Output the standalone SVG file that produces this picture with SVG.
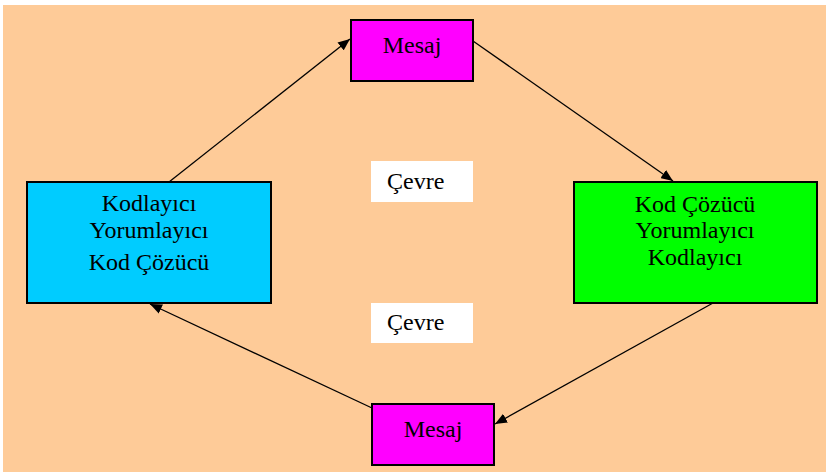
<svg xmlns="http://www.w3.org/2000/svg" width="826" height="472" viewBox="0 0 826 472">
<defs>
<style>
.t{font-family:"Liberation Serif","Times New Roman",serif;font-size:24px;fill:#000;}
.c{text-anchor:middle;}
.box{stroke:#000;stroke-width:2;}
.ln{stroke:#000;stroke-width:1.3;fill:none;marker-end:url(#ah);}
</style>
<marker id="ah" viewBox="0 0 12 10" refX="12" refY="5" markerWidth="12" markerHeight="10" markerUnits="userSpaceOnUse" orient="auto">
<path d="M0,0 L12,5 L0,10 z" fill="#000"/>
</marker>
</defs>
<rect x="0" y="0" width="826" height="472" fill="#fff"/>
<rect x="3" y="5" width="823" height="467" fill="#fecb98"/>
<g id="connectors">
<line class="ln" x1="169" y1="182" x2="350" y2="39"/>
<line class="ln" x1="473" y1="41" x2="673" y2="181"/>
<line class="ln" x1="713" y1="303" x2="495" y2="424"/>
<line class="ln" x1="372" y1="408" x2="150" y2="304"/>
</g>
<g id="mesaj-top">
<rect class="box" x="351" y="20" width="122" height="61" fill="#ff00ff"/>
<text class="t c" x="412" y="53">Mesaj</text>
</g>
<g id="sol">
<rect class="box" x="27" y="182" width="244" height="121" fill="#00ccff"/>
<text class="t c" x="149" y="211">Kodlayıcı</text>
<text class="t c" x="149" y="238">Yorumlayıcı</text>
<text class="t c" x="149" y="270">Kod Çözücü</text>
</g>
<g id="sag">
<rect class="box" x="574" y="182" width="243" height="121" fill="#00ff00"/>
<text class="t c" x="695" y="212">Kod Çözücü</text>
<text class="t c" x="695" y="238">Yorumlayıcı</text>
<text class="t c" x="695" y="265">Kodlayıcı</text>
</g>
<g id="mesaj-bottom">
<rect class="box" x="372" y="404" width="122" height="61" fill="#ff00ff"/>
<text class="t c" x="433" y="437">Mesaj</text>
</g>
<g id="cevre-1">
<rect x="371" y="161" width="102" height="41" fill="#fff"/>
<text class="t" x="387" y="189">Çevre</text>
</g>
<g id="cevre-2">
<rect x="371" y="303" width="102" height="40" fill="#fff"/>
<text class="t" x="387" y="330">Çevre</text>
</g>
</svg>
